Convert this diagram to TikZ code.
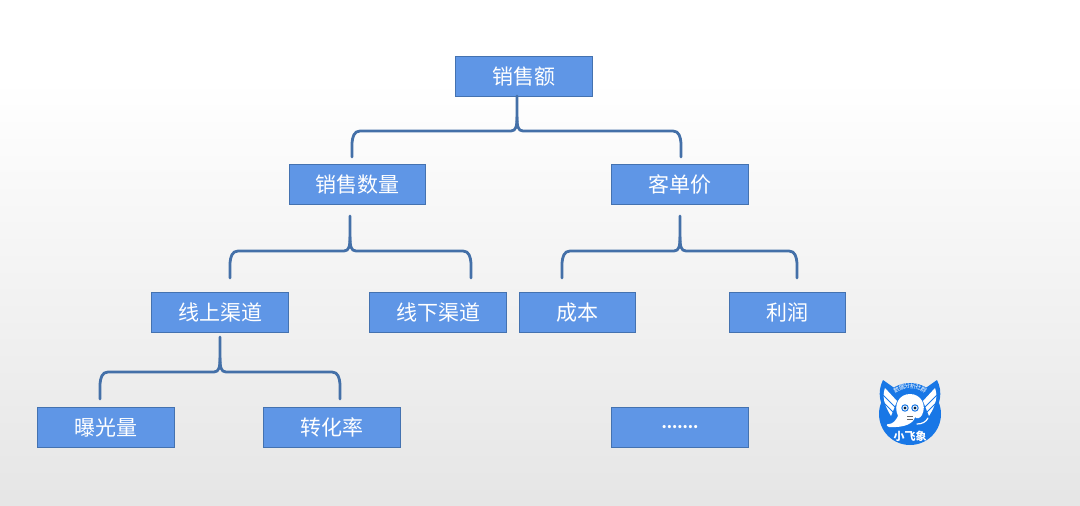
\documentclass[tikz,border=0pt]{standalone}
\usepackage{fontspec}
\newfontfamily\cjk{Noto Sans CJK SC}
\definecolor{boxfill}{HTML}{5F96E6}
\definecolor{boxedge}{HTML}{4472B0}
\definecolor{bracketblue}{HTML}{4470A8}
\definecolor{logoblue}{HTML}{1877E6}
\tikzset{
box/.style={draw=boxedge,fill=boxfill,line width=0.8pt,text=white,font=\cjk\fontsize{21}{21}\selectfont,inner sep=0pt},
bracket/.style={draw=bracketblue,line width=2.8pt,line cap=round,line join=round}
}
\begin{document}
\begin{tikzpicture}[x=1pt,y=-1pt]
\def\bx#1#2#3#4#5{
\node [box,minimum width=#4pt-#3pt-0.8pt,minimum height=40.2pt] (#1) at ({(#3+#4)/2},#2) {#5};
}
\def\di#1#2#3#4#5#6{
% parent, stem x, left x, right x, bar y, end y
\coordinate (#1s) at (#2,#5-35);
\coordinate (#1l) at (#3,#6);
\coordinate (#1r) at (#4,#6);
\draw [bracket] (#1s) -- (#2,#5-14) .. controls (#2,#5-5) and (#2-1,#5) .. (#2-6,#5) -- (#3+8,#5) .. controls (#3+2,#5) and (#3+0.5,#5+6) .. (#3,#5+12) -- (#1l);
\draw [bracket] (#2,#5-14) .. controls (#2,#5-5) and (#2+1,#5) .. (#2+6,#5) -- (#4-8,#5) .. controls (#4-2,#5) and (#4-0.5,#5+6) .. (#4,#5+12) -- (#1r);
}
\useasboundingbox (0,0) rectangle (1080,506);
\fill [white] (0,0) rectangle (1080,80);
\shade [top color=white,bottom color=black!10] (0,80) rectangle (1080,506);

\bx{total}{76.5}{455}{593}{销售额}
\bx{qty}{184.5}{289}{426}{销售数量}
\bx{price}{184.5}{611}{749}{客单价}
\bx{online}{312.5}{151}{289}{线上渠道}
\bx{offline}{312.5}{369}{507}{线下渠道}
\bx{cost}{312.5}{519}{636}{成本}
\bx{profit}{312.5}{729}{846}{利润}
\bx{expo}{427.5}{37}{175}{曝光量}
\bx{conv}{427.5}{263}{401}{转化率}
\bx{more}{427.5}{611}{749}{\fontsize{15}{15}\selectfont\bfseries\raisebox{0pt}{.......}}

\di{total}{517}{352}{681}{131}{157}
\di{qty}{350}{230}{471}{251}{278}
\di{price}{680}{562}{797}{251}{278}
\di{online}{220}{100}{340}{372}{399}

% logo
\fill [logoblue] (910,414) circle (31);
\foreach \s in {1,-1}{
\fill [logoblue] (910+\s*10,392) -- (910+\s*27,380) .. controls (910+\s*33,392) and (910+\s*31,405) .. (910+\s*20,420) -- cycle;
\fill [white] (910+\s*13,401) -- (910+\s*25,388) .. controls (910+\s*28,396) and (910+\s*26,405) .. (910+\s*19,416) -- cycle;
\draw [logoblue,line width=1pt] (910+\s*15,407) -- (910+\s*27,395) (910+\s*17,412) -- (910+\s*26,403);
}
% head and trunk
\fill [white] (898,416) .. controls (893,405) and (899,394) .. (910,394) .. controls (921,394) and (927,405) .. (922,415) .. controls (920,419) and (916,419) .. (915,417) .. controls (914,423) and (905,428) .. (889,427) .. controls (886,426) and (886,424) .. (889,424) .. controls (893,424) and (896,420) .. (898,416) -- cycle;
\foreach \ex in {905,915}{
\draw [logoblue,line width=1pt,fill=white] (\ex,408) circle (3.2);
\fill [black!70!logoblue] (\ex,408) circle (1.6);
}
\draw [black!60,line width=0.5pt] (907,416) -- (913,416) (907,419) -- (913,419);
\draw [white,line width=1.2pt,line cap=round] (917,424) .. controls (922,424) and (926,422) .. (928,418);
\node [text=white,font=\cjk\bfseries\fontsize{11}{11}\selectfont,inner sep=0pt] (logotext) at (910,436) {小飞象};
\foreach \ch/\ang in {数/-30,据/-18,分/-6,析/6,社/18,群/30}{
\node [text=white,font=\cjk\fontsize{6}{6}\selectfont,inner sep=0pt,rotate=-\ang] (logo\ang) at ({910+27*sin(\ang)},{413-27*cos(\ang)}) {\ch};
}
\end{tikzpicture}
\end{document}
